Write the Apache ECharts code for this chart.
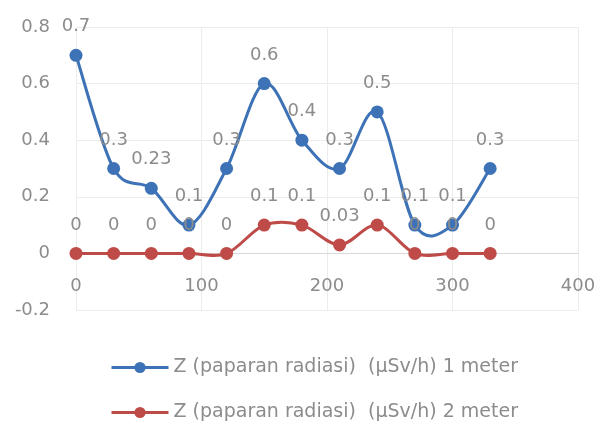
<!DOCTYPE html>
<html>
<head>
<meta charset="utf-8">
<script src="https://cdn.jsdelivr.net/npm/echarts@6/dist/echarts.min.js"></script>
<style>html,body{margin:0;padding:0;background:#fff}#c{width:605px;height:437px}</style>
</head>
<body>
<div id="c"></div>
<script>
const distances = [0, 30, 60, 90, 120, 150, 180, 210, 240, 270, 300, 330];
const series1Name = 'Z (paparan radiasi)  (µSv/h) 1 meter';
const series2Name = 'Z (paparan radiasi)  (µSv/h) 2 meter';
const series1Values = [0.7, 0.3, 0.23, 0.1, 0.3, 0.6, 0.4, 0.3, 0.5, 0.1, 0.1, 0.3];
const series2Values = [0, 0, 0, 0, 0, 0.1, 0.1, 0.03, 0.1, 0, 0, 0];
const xTicks = [0, 100, 200, 300, 400];
const yTicks = [-0.2, 0, 0.2, 0.4, 0.6, 0.8];

const FONT = '"DejaVu Sans", sans-serif';
const TXT = '#8c8c8c';
const BLUE = '#3e72b6';
const RED = '#be4b48';

function pairs(xs, ys) { return xs.map((x, i) => [x, ys[i]]); }

// Excel-like smoothed curve (Catmull-Rom in pixel space), one segment per item
function curveRenderer(xs, ys, color) {
  return function (params, api) {
    const i = params.dataIndex;
    const n = xs.length;
    if (i >= n - 1) return null;
    const P = k => api.coord([xs[Math.max(0, Math.min(n - 1, k))], ys[Math.max(0, Math.min(n - 1, k))]]);
    const p0 = P(i - 1), p1 = P(i), p2 = P(i + 1), p3 = P(i + 2);
    const t = 1 / 6;
    return {
      type: 'bezierCurve',
      shape: {
        x1: p1[0], y1: p1[1], x2: p2[0], y2: p2[1],
        cpx1: p1[0] + (p2[0] - p0[0]) * t, cpy1: p1[1] + (p2[1] - p0[1]) * t,
        cpx2: p2[0] - (p3[0] - p1[0]) * t, cpy2: p2[1] - (p3[1] - p1[1]) * t
      },
      style: {stroke: color, lineWidth: 3, fill: null, lineCap: 'round'}
    };
  };
}

const chart = echarts.init(document.getElementById('c'), null, {renderer: 'canvas'});
const labelCfg = {
  show: true, position: 'top', distance: 13,
  color: TXT, fontFamily: FONT, fontSize: 18,
  formatter: p => String(p.value[1])
};
chart.setOption({
  animation: false,
  backgroundColor: '#fff',
  grid: {left: 76, right: 27, top: 27, bottom: 127, containLabel: false},
  xAxis: {
    type: 'value', min: xTicks[0], max: xTicks[xTicks.length - 1], interval: 100,
    axisLine: {show: true, onZero: true, lineStyle: {color: '#d9d9d9', width: 1}},
    axisTick: {show: false},
    axisLabel: {color: TXT, fontFamily: FONT, fontSize: 18, margin: -33},
    splitLine: {show: true, lineStyle: {color: '#ececec', width: 1}}
  },
  yAxis: {
    type: 'value', min: yTicks[0], max: yTicks[yTicks.length - 1], interval: 0.2,
    axisLine: {show: false},
    axisTick: {show: false},
    axisLabel: {color: TXT, fontFamily: FONT, fontSize: 18, margin: 26,
      formatter: v => String(Math.round(v * 10) / 10)},
    splitLine: {show: true, lineStyle: {color: '#ececec', width: 1}}
  },
  legend: {
    orient: 'vertical', left: 105, top: 353, itemWidth: 57, itemHeight: 14, itemGap: 26,
    textStyle: {color: TXT, fontFamily: FONT, fontSize: 19},
    data: [
      {name: series1Name, lineStyle: {color: BLUE, width: 3, opacity: 1}},
      {name: series2Name, lineStyle: {color: RED, width: 3, opacity: 1}}
    ]
  },
  series: [
    {
      name: series1Name, type: 'line', z: 3,
      data: pairs(distances, series1Values),
      symbol: 'circle', symbolSize: 13,
      lineStyle: {color: BLUE, width: 3, opacity: 0}, itemStyle: {color: BLUE},
      label: labelCfg
    },
    {
      name: series2Name, type: 'line', z: 3,
      data: pairs(distances, series2Values),
      symbol: 'circle', symbolSize: 13,
      lineStyle: {color: RED, width: 3, opacity: 0}, itemStyle: {color: RED},
      label: labelCfg
    },
    {
      name: series1Name, type: 'custom', z: 2, silent: true,
      data: pairs(distances, series1Values),
      renderItem: curveRenderer(distances, series1Values, BLUE)
    },
    {
      name: series2Name, type: 'custom', z: 2, silent: true,
      data: pairs(distances, series2Values),
      renderItem: curveRenderer(distances, series2Values, RED)
    }
  ]
});
</script>
</body>
</html>
